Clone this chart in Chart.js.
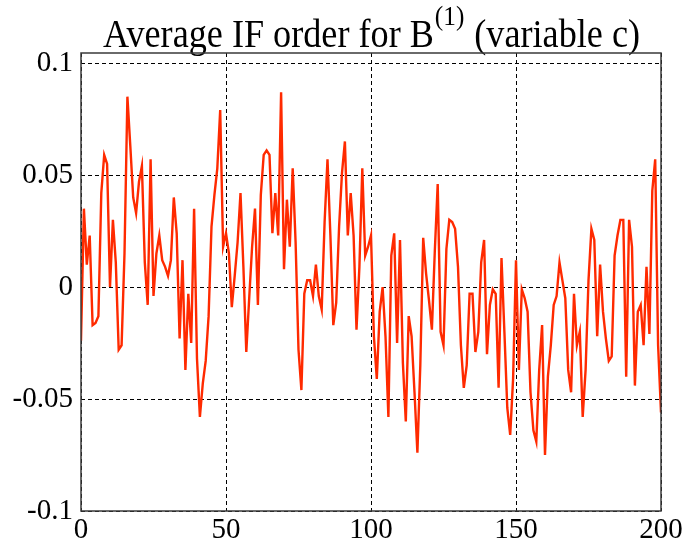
<!DOCTYPE html>
<html>
<head>
<meta charset="utf-8">
<script src="https://cdn.jsdelivr.net/npm/chart.js@4/dist/chart.umd.min.js"></script>
<style>
html,body{margin:0;padding:0;background:#fff;}
#wrap{width:693px;height:548px;position:relative;}
</style>
</head>
<body>
<div id="wrap"><canvas id="c" width="693" height="548"></canvas></div>
<script>
const titleMain = "Average IF order for B";
const titleSup = "(1)";
const titleRest = " (variable c)";

const xTicks = [0, 50, 100, 150, 200];
const xTickLabels = ["0", "50", "100", "150", "200"];
const yTicks = [-0.1, -0.05, 0, 0.05, 0.1];
const yTickLabels = ["-0.1", "-0.05", "0", "0.05", "0.1"];

const ifOrder = [
 -0.024, 0.035, 0.010, 0.023, -0.017, -0.016, -0.013, 0.042, 0.059, 0.055,
  0.000, 0.030, 0.011, -0.028, -0.026, 0.015, 0.085, 0.063, 0.040, 0.033,
  0.047, 0.054, 0.011, -0.008, 0.057, -0.004, 0.015, 0.023, 0.012, 0.009,
  0.005, 0.012, 0.040, 0.024, -0.023, 0.012, -0.037, -0.003, -0.025, 0.035,
 -0.032, -0.058, -0.043, -0.033, -0.013, 0.027, 0.041, 0.053, 0.079, 0.018,
  0.024, 0.015, -0.009, 0.005, 0.020, 0.042, 0.009, -0.029, -0.005, 0.018,
  0.035, -0.008, 0.041, 0.059, 0.061, 0.059, 0.024, 0.042, 0.023, 0.087,
  0.008, 0.039, 0.018, 0.053, 0.020, -0.028, -0.046, -0.003, 0.003, 0.003,
 -0.004, 0.010, -0.004, -0.010, 0.029, 0.057, 0.023, -0.017, -0.007, 0.027,
  0.051, 0.065, 0.023, 0.042, 0.023, -0.019, 0.009, 0.053, 0.014, 0.018,
  0.023, -0.022, -0.041, -0.011, 0.000, -0.022, -0.058, 0.014, 0.024, -0.025,
  0.021, -0.034, -0.060, -0.013, -0.022, -0.047, -0.074, -0.035, 0.022, 0.006,
 -0.006, -0.019, 0.016, 0.046, -0.020, -0.026, 0.017, 0.030, 0.029, 0.026,
  0.009, -0.026, -0.045, -0.035, -0.003, -0.003, -0.029, -0.020, 0.011, 0.021,
 -0.030, -0.008, -0.001, -0.003, -0.045, 0.013, -0.020, -0.054, -0.066, -0.041,
  0.012, -0.037, -0.001, -0.005, -0.011, -0.047, -0.064, -0.069, -0.037, -0.017,
 -0.075, -0.040, -0.026, -0.008, -0.004, 0.011, 0.003, -0.005, -0.037, -0.047,
 -0.003, -0.026, -0.020, -0.058, -0.037, 0.003, 0.026, 0.021, -0.022, 0.010,
 -0.011, -0.023, -0.033, -0.031, 0.014, 0.023, 0.030, 0.030, -0.040, 0.030,
  0.018, -0.044, -0.011, -0.008, -0.026, 0.009, -0.021, 0.043, 0.057, -0.026,
 -0.056
];
const sampleIndex = ifOrder.map((v, i) => i);

const points = sampleIndex.map((x, i) => ({x: x, y: ifOrder[i]}));

const titlePlugin = {
  id: 'supTitle',
  afterDraw(chart) {
    const ctx = chart.ctx;
    ctx.save();
    const big = '40px "Liberation Serif", "Times New Roman", serif';
    const small = '28px "Liberation Serif", "Times New Roman", serif';
    ctx.font = big;
    const w1 = ctx.measureText(titleMain).width;
    const w3 = ctx.measureText(titleRest).width;
    ctx.font = small;
    const w2 = ctx.measureText(titleSup).width;
    const total = w1 + w2 + 2 + w3;
    const targetW = 537;
    const sx = targetW / total;
    const cx = 371.5;
    const baseY = 47;
    ctx.translate(cx - targetW / 2, baseY);
    ctx.scale(sx, 1);
    ctx.fillStyle = '#000';
    ctx.textBaseline = 'alphabetic';
    ctx.textAlign = 'left';
    ctx.font = big;
    ctx.fillText(titleMain, 0, 0);
    ctx.font = small;
    ctx.fillText(titleSup, w1 + 1, -22);
    ctx.font = big;
    ctx.fillText(titleRest, w1 + w2 + 2, 0);
    ctx.restore();
  }
};

const framePlugin = {
  id: 'frame',
  afterDraw(chart) {
    const a = chart.chartArea;
    const ctx = chart.ctx;
    ctx.save();
    ctx.strokeStyle = '#3a3a3a';
    ctx.lineWidth = 1.5;
    ctx.strokeRect(a.left, a.top, a.right - a.left, a.bottom - a.top);
    ctx.restore();
  }
};

const tickFont = {family: '"Liberation Serif", "Times New Roman", serif', size: 29};

new Chart(document.getElementById('c'), {
  type: 'line',
  data: {
    datasets: [{
      data: points,
      borderColor: '#ff2a00',
      borderWidth: 2.4,
      pointRadius: 0,
      tension: 0,
      fill: false
    }]
  },
  options: {
    responsive: false,
    animation: false,
    events: [],
    layout: {padding: {top: 53, right: 32, left: 0, bottom: 0}},
    plugins: {legend: {display: false}, tooltip: {enabled: false}, title: {display: false}},
    scales: {
      x: {
        type: 'linear',
        min: 0, max: 200,
        afterBuildTicks(scale) { scale.ticks = xTicks.map(v => ({value: v})); },
        afterFit(scale) { scale.height = 37; },
        ticks: {
          color: '#000', font: tickFont, padding: 2, maxRotation: 0, autoSkip: false,
          callback: (v) => xTickLabels[xTicks.indexOf(v)]
        },
        grid: {color: '#000', lineWidth: 1, drawTicks: false},
        border: {display: false, dash: [4, 3]}
      },
      y: {
        type: 'linear',
        min: -0.1, max: 0.1045,
        afterBuildTicks(scale) { scale.ticks = yTicks.map(v => ({value: v})); },
        afterFit(scale) { scale.width = 81; },
        ticks: {
          color: '#000', font: tickFont, padding: 8, autoSkip: false,
          callback: (v) => {
            const k = yTicks.findIndex(t => Math.abs(t - v) < 1e-9);
            return k >= 0 ? yTickLabels[k] : '';
          }
        },
        grid: {color: '#000', lineWidth: 1, drawTicks: false},
        border: {display: false, dash: [4, 3]}
      }
    }
  },
  plugins: [titlePlugin, framePlugin]
});
</script>
</body>
</html>
